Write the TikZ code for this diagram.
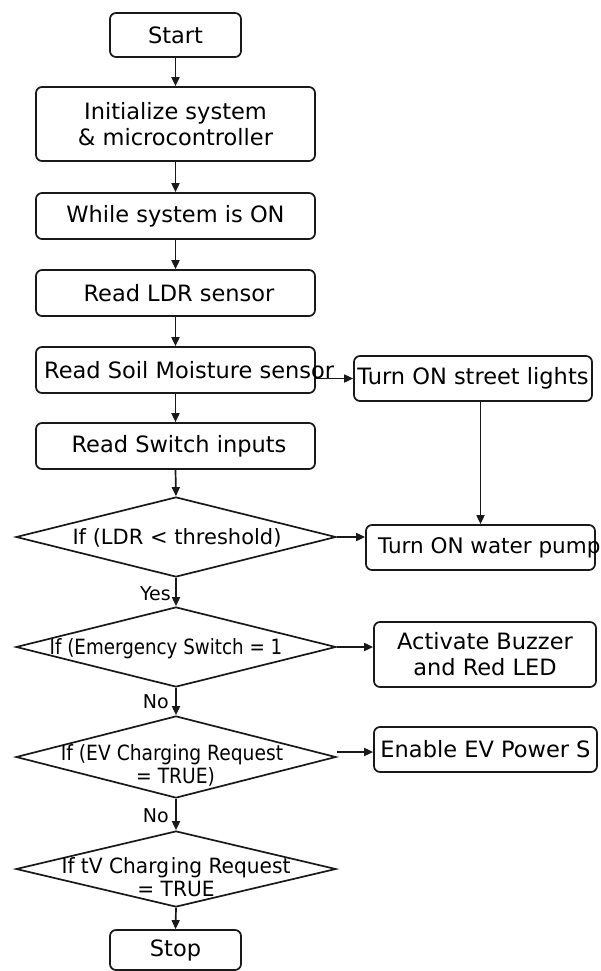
\documentclass[tikz,border=0pt]{standalone}
\usepackage{fontspec}
\setmainfont{DejaVu Sans}
\usetikzlibrary{shapes.geometric,arrows.meta}
\begin{document}
\begin{tikzpicture}[x=1pt,y=-1pt,
  box/.style={draw=black!90, line width=1.7pt, rounded corners=6pt, inner sep=0pt},
  dia/.style={draw=black!90, line width=1.7pt, diamond, inner sep=0pt},
  txt/.style={font=\fontsize{22.5}{26}\selectfont, align=center, inner sep=0pt},
  dtxt/.style={font=\fontsize{21}{23}\selectfont, align=center, inner sep=0pt},
  lbl/.style={font=\fontsize{19}{22}\selectfont, inner sep=0pt, anchor=east},
  arr/.style={draw=black!90, line width=1.7pt, -{Triangle[length=9pt,width=8pt]}}
]
\useasboundingbox (0,0) rectangle (601,971);

% main column
\node[box, txt, minimum width=131pt, minimum height=44pt] (start) at (175.5,35) {Start};
\node[box, txt, minimum width=279pt, minimum height=74pt] (init) at (175.5,124) {Initialize system\\\& microcontroller};
\node[box, txt, minimum width=279pt, minimum height=46pt] (while) at (175.5,216) {While system is ON};
\node[box, minimum width=279pt, minimum height=46pt] (ldr) at (175.5,293) {};
\node[txt] (ldrtxt) at (179,293) {Read LDR sensor};
\node[box, minimum width=279pt, minimum height=46pt] (soil) at (175.5,370) {};
\node[box, minimum width=279pt, minimum height=46pt] (switch) at (175.5,446) {};
\node[txt] (switchtxt) at (179,446) {Read Switch inputs};

\node[dia, minimum width=320pt, minimum height=80pt] (d1) at (176,537) {};
\node[dtxt] (d1txt) at (177,538) {If (LDR < threshold)};
\node[dia, minimum width=320pt, minimum height=80pt] (d2) at (176,647) {};
\node[dtxt] (d2txt) at (166,649) {\scalebox{0.87}[1]{If (Emergency Switch = 1}};
\node[dia, minimum width=320pt, minimum height=82pt] (d3) at (176,757) {};
\node[dtxt] (d3txt) at (172,767) {\scalebox{0.89}[1]{\begin{tabular}{@{}c@{}}If (EV Charging Request\\\hspace*{8pt}= TRUE)\end{tabular}}};
\node[dia, minimum width=320pt, minimum height=76pt] (d4) at (176,869) {};
\node[dtxt] (d4txt) at (176,880) {\scalebox{0.96}[1]{\begin{tabular}{@{}c@{}}If tV Charg\kern2pt ing Request\\= TRUE\end{tabular}}};

\node[box, txt, minimum width=131pt, minimum height=40pt] (stop) at (175.5,950) {Stop};

% right column
\node[box, txt, minimum width=238pt, minimum height=45pt] (street) at (473,378.5) {Turn ON street lights};
\node[box, minimum width=229pt, minimum height=45pt] (pump) at (480.5,547.5) {};
\node[txt, anchor=west, font=\fontsize{21.5}{26}\selectfont] (pumptxt) at (378,547.5) {Turn ON water pump};
\node[box, txt, minimum width=222pt, minimum height=65pt] (buzz) at (485,654.5) {Activate Buzzer\\and Red LED};
\node[box, txt, minimum width=223pt, minimum height=45pt] (ev) at (485.5,749.5) {Enable EV Power S};

% arrows main column
\draw[arr] (start.south) -- (init.north);
\draw[arr] (init.south) -- (while.north);
\draw[arr] (while.south) -- (ldr.north);
\draw[arr] (ldr.south) -- (soil.north);
\draw[arr] (soil.south) -- (switch.north);
\draw[arr] (switch.south) -- (d1.north);
\draw[arr] (d1.south) -- (d2.north);
\draw[arr] (d2.south) -- (d3.north);
\draw[arr] (d3.south) -- (d4.north);
\draw[arr] (d4.south) -- (stop.north);

% side arrows
\draw[arr] (soil.east |- street.west) -- (street.west);
\draw[arr] (pump.north |- street.south) -- (pump.north);
\draw[arr] (d1.east) -- (d1.east -| pump.west);
\draw[arr] (d2.east) -- (d2.east -| buzz.west);
\draw[arr] ([yshift=5pt]d3.east) -- ([yshift=5pt]d3.east -| ev.west);

% soil text drawn over the arrow
\node[txt, anchor=west] (soiltxt) at (44,370) {Read Soil Moisture sensor};

% labels
\node[lbl] (yes) at (171,594) {Yes};
\node[lbl] (no1) at (169,702) {No};
\node[lbl] (no2) at (169,816) {No};
\end{tikzpicture}
\end{document}
